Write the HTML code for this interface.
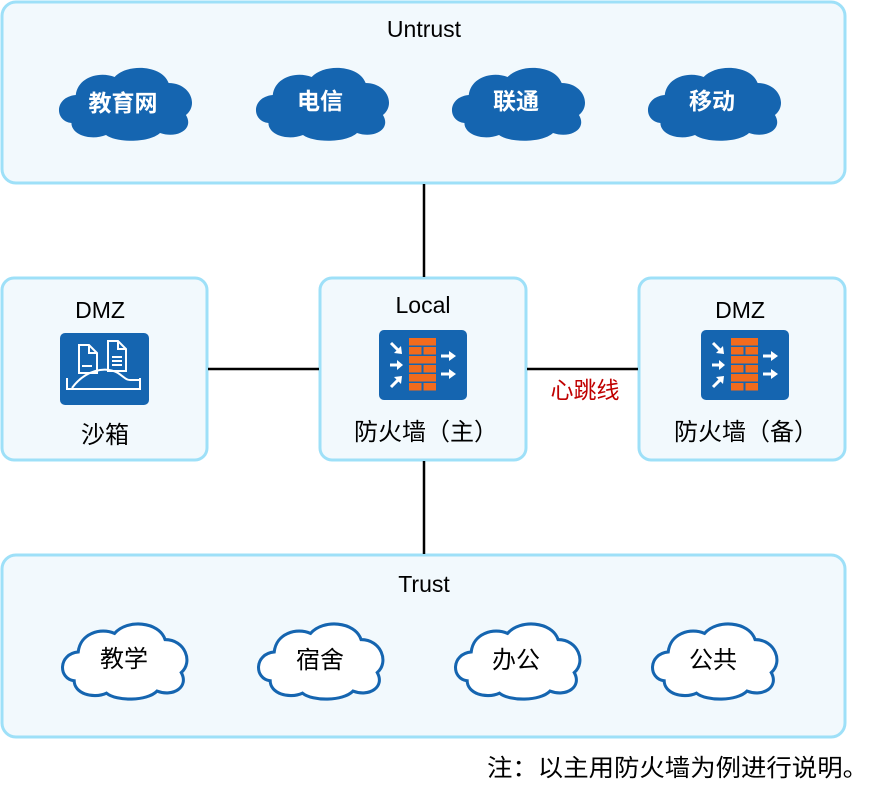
<!DOCTYPE html>
<html><head><meta charset="utf-8"><style>
html,body{margin:0;padding:0;background:#fff;}
svg text{font-family:"Liberation Sans","Noto Sans CJK SC",sans-serif;}
</style></head><body>
<svg width="879" height="799" viewBox="0 0 879 799" xmlns="http://www.w3.org/2000/svg">
<defs>
<path id="cl" d="M18,60 C2,58 2,34 22,32 C24,14 44,8 58,14 C70,0 102,2 108,20 C128,20 136,42 124,52 C132,66 116,76 100,70 C90,80 60,80 50,72 C36,78 18,72 18,60 Z"/>
<g id="fw">
<rect x="0" y="0" width="88" height="70" rx="5" fill="#1565b0"/>
<g fill="#f26b1d">
<rect x="30" y="8" width="27" height="7.5"/>
<rect x="30" y="17" width="12.5" height="7.5"/><rect x="44.5" y="17" width="12.5" height="7.5"/>
<rect x="30" y="26" width="27" height="7.5"/>
<rect x="30" y="35" width="12.5" height="7.5"/><rect x="44.5" y="35" width="12.5" height="7.5"/>
<rect x="30" y="44" width="27" height="7.5"/>
<rect x="30" y="53" width="12.5" height="7.5"/><rect x="44.5" y="53" width="12.5" height="7.5"/>
</g>
<g fill="#fff" stroke="#fff">
<path d="M12,13 L20,21" stroke-width="3"/><path d="M23,24 L15,23 L22,16 Z" stroke="none"/>
<path d="M11,35 L19,35" stroke-width="3"/><path d="M24,35 L18,30 L18,40 Z" stroke="none"/>
<path d="M12,57 L20,49" stroke-width="3"/><path d="M23,46 L15,47 L22,54 Z" stroke="none"/>
<path d="M62,26 L71,26" stroke-width="3"/><path d="M77,26 L70,21 L70,31 Z" stroke="none"/>
<path d="M62,44 L71,44" stroke-width="3"/><path d="M77,44 L70,39 L70,49 Z" stroke="none"/>
</g>
</g>
</defs>
<g fill="#f2f9fd" stroke="#9ee0f8" stroke-width="3">
<rect x="2" y="2" width="843" height="181" rx="14"/>
<rect x="2" y="278" width="205" height="182" rx="12"/>
<rect x="320" y="278" width="206" height="182" rx="12"/>
<rect x="639" y="278" width="206" height="182" rx="12"/>
<rect x="2" y="555" width="843" height="182" rx="14"/>
</g>
<g stroke="#000" stroke-width="2.5">
<line x1="424" y1="184" x2="424" y2="277"/>
<line x1="424" y1="461" x2="424" y2="554"/>
<line x1="208" y1="369" x2="319" y2="369"/>
<line x1="527" y1="369" x2="638" y2="369"/>
</g>
<g font-size="23" text-anchor="middle" fill="#000">
<text x="424" y="37">Untrust</text>
<text x="100" y="318">DMZ</text>
<text x="423" y="313">Local</text>
<text x="740" y="318">DMZ</text>
<text x="424" y="592">Trust</text>
</g>
<g font-size="24" text-anchor="middle" fill="#000">
<text x="105" y="443">沙箱</text>
<text x="426" y="440">防火墙（主）</text>
<text x="746" y="440">防火墙（备）</text>
</g>
<text x="585" y="398" font-size="23" fill="#c00000" text-anchor="middle">心跳线</text>
<g fill="#1565b0">
<use href="#cl" transform="translate(52,63) scale(1.08,1)"/>
<use href="#cl" transform="translate(249,63) scale(1.08,1)"/>
<use href="#cl" transform="translate(445,63) scale(1.08,1)"/>
<use href="#cl" transform="translate(641,63) scale(1.08,1)"/>
</g>
<g font-size="23" font-weight="bold" fill="#fff" text-anchor="middle">
<text x="123" y="111">教育网</text>
<text x="320" y="109">电信</text>
<text x="516" y="109">联通</text>
<text x="712" y="109">移动</text>
</g>
<g fill="#fff" stroke="#1565b0" stroke-width="3">
<use href="#cl" transform="translate(56,619) scale(1.01,1.03)"/>
<use href="#cl" transform="translate(252,619) scale(1.01,1.03)"/>
<use href="#cl" transform="translate(449,619) scale(1.01,1.03)"/>
<use href="#cl" transform="translate(646,619) scale(1.01,1.03)"/>
</g>
<g font-size="24" fill="#000" text-anchor="middle">
<text x="124" y="667">教学</text>
<text x="320" y="668">宿舍</text>
<text x="516" y="668">办公</text>
<text x="713" y="668">公共</text>
</g>
<use href="#fw" transform="translate(379,330)"/>
<use href="#fw" transform="translate(701,330)"/>
<g>
<rect x="60" y="333" width="89" height="72" rx="5" fill="#1565b0"/>
<g fill="none" stroke="#fff" stroke-width="2">
<path d="M79,345 h10 l8,8 v20 h-18 z M89,345 v8 h8"/>
<path d="M108,341 h10 l8,8 v22 h-18 z M118,341 v8 h8"/>
<path d="M112,357 h10 M112,361 h10 M112,365 h10"/>
<path d="M82,366 h10"/>
<path d="M67,378 v11 h73 v-11"/>
<path d="M72,388 C85,370 105,366 118,373 C124,377 126,380 130,380 h10"/>
</g>
</g>
<text x="868" y="776" font-size="24" fill="#000" text-anchor="end" textLength="381" lengthAdjust="spacingAndGlyphs">注：以主用防火墙为例进行说明。</text>
</svg>
</body></html>
